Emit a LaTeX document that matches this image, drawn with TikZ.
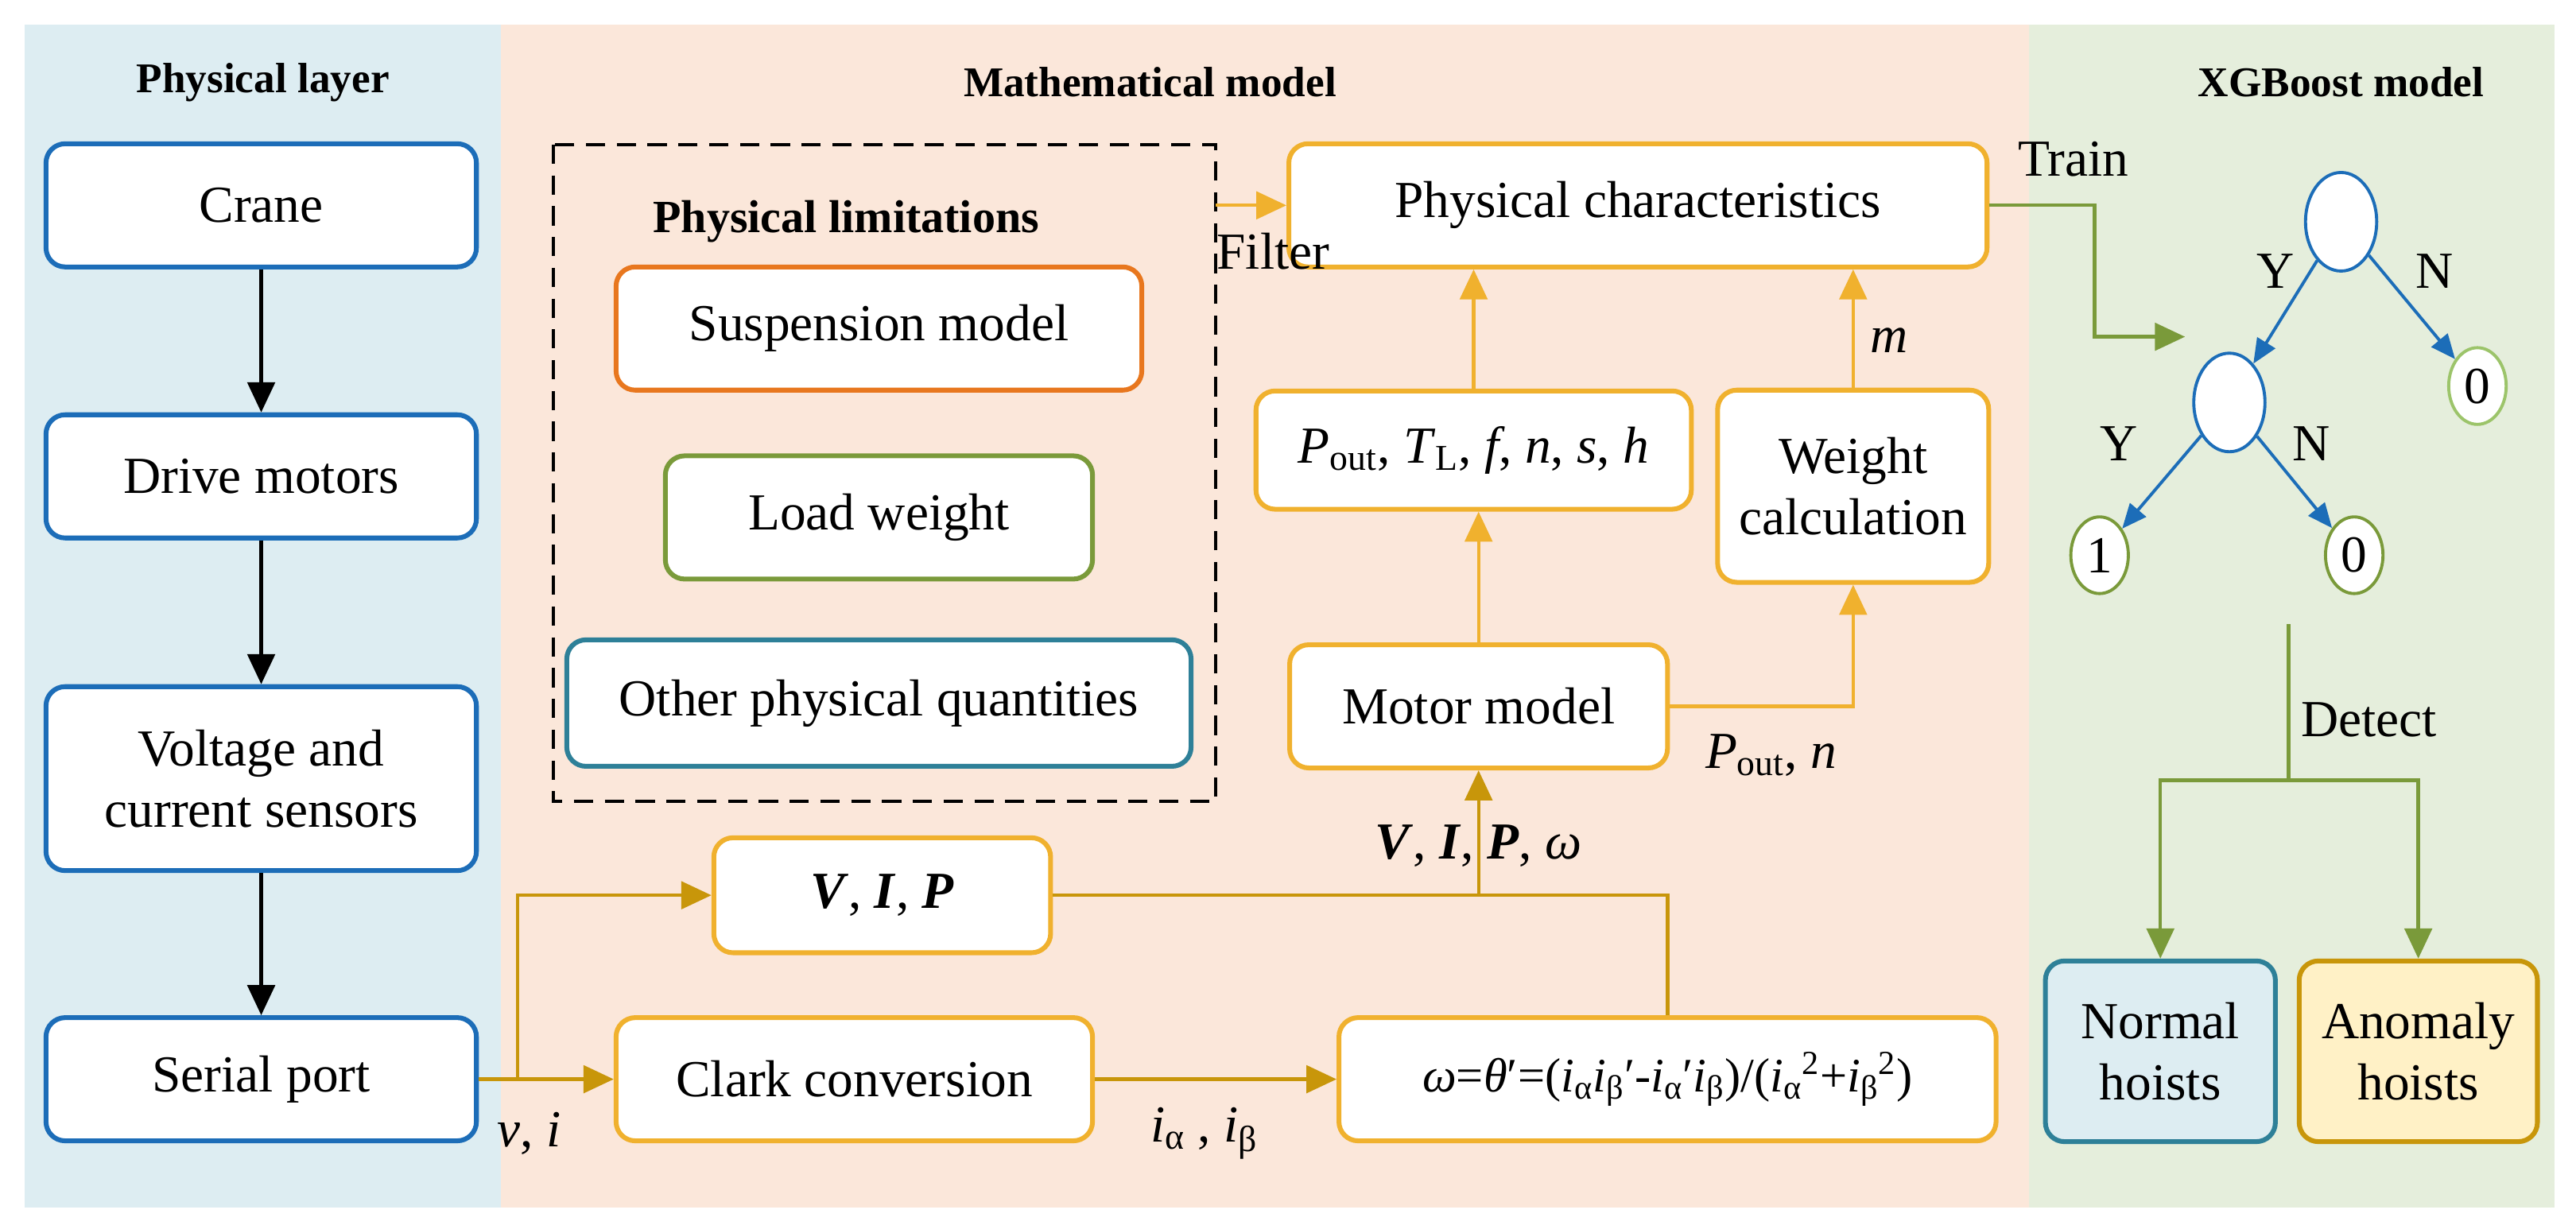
\documentclass[tikz,border=0pt]{standalone}
\usepackage{fontspec}
\setmainfont{Liberation Serif}
\usetikzlibrary{arrows.meta,shapes.geometric}
\definecolor{bgb}{HTML}{DDEDF2}
\definecolor{bgp}{HTML}{FBE7DA}
\definecolor{bgg}{HTML}{E5EEDC}
\definecolor{cb}{HTML}{1C6DB8}
\definecolor{cy}{HTML}{F0B12E}
\definecolor{cd}{HTML}{C8960A}
\definecolor{co}{HTML}{E8771E}
\definecolor{cg}{HTML}{7A9A3A}
\definecolor{ct}{HTML}{2E8098}
\definecolor{clg}{HTML}{9CC46A}
\definecolor{cream}{HTML}{FFF1C6}
\newcommand{\bi}[1]{\textbf{\textit{#1}}}
\newcommand{\iv}{\textit{i}}
\begin{document}
\begin{tikzpicture}[x=0.03cm,y=-0.03cm,
  every node/.style={font=\fontsize{27}{32}\selectfont},
  bx/.style={draw,line width=2.5pt,rounded corners=0.35cm,fill=white,align=center,inner sep=0pt},
  ttl/.style={font=\fontsize{22}{26}\selectfont\bfseries},
  ar/.style={line width=1.8pt,-{Triangle[length=0.55cm,width=0.5cm]}},
  ln/.style={line width=1.8pt},
  lf/.style={draw=cb,line width=1.6pt,ellipse,minimum width=1.3cm,minimum height=1.8cm,fill=white,inner sep=0pt}]
\useasboundingbox (0,0) rectangle (1568,748);
\fill[bgb] (15,15) rectangle (305,735);
\fill[bgp] (305,15) rectangle (1235,735);
\fill[bgg] (1235,15) rectangle (1555,735);
\node[ttl] (t1) at (160,50) {Physical layer};
\node[ttl] (t2) at (700,50) {Mathematical model};
\node[ttl] (t3) at (1425,50) {XGBoost model};
% left
\tikzset{lb/.style={bx,draw=cb,minimum width=262*0.03cm}}
\node[lb,minimum height=75*0.03cm] (crane) at (159,125) {Crane};
\node[lb,minimum height=75*0.03cm] (drive) at (159,290) {Drive motors};
\node[lb,minimum height=112*0.03cm] (sens) at (159,474) {Voltage and\\current sensors};
\node[lb,minimum height=75*0.03cm] (serial) at (159,657) {Serial port};
\draw[ar] (crane) -- (drive);
\draw[ar] (drive) -- (sens);
\draw[ar] (sens) -- (serial);
% dashed box
\draw[line width=1.6pt,dash pattern=on 10pt off 6pt] (337,88) rectangle (740,488);
\coordinate (dbr) at (740,125);
\node[ttl,font=\fontsize{24}{28}\selectfont\bfseries] (pl) at (515,135) {Physical limitations};
\node[bx,draw=co,minimum width=320*0.03cm,minimum height=75*0.03cm] (susp) at (535,200) {Suspension model};
\node[bx,draw=cg,minimum width=260*0.03cm,minimum height=75*0.03cm] (load) at (535,315) {Load weight};
\node[bx,draw=ct,minimum width=380*0.03cm,minimum height=77*0.03cm] (oth) at (535,428) {Other physical quantities};
% middle
\tikzset{yb/.style={bx,draw=cy}}
\node[yb,minimum width=425*0.03cm,minimum height=75*0.03cm] (pc) at (997,125) {Physical characteristics};
\node[yb,minimum width=265*0.03cm,minimum height=72*0.03cm] (pout) at (897,274) {\textit{P}\textsubscript{out}, \textit{T}\textsubscript{L}, \textit{f}, \textit{n}, \textit{s}, \textit{h}};
\node[yb,minimum width=165*0.03cm,minimum height=117*0.03cm] (wc) at (1128,296) {Weight\\calculation};
\node[yb,minimum width=230*0.03cm,minimum height=75*0.03cm] (mm) at (900,430) {Motor model};
\node[yb,minimum width=205*0.03cm,minimum height=70*0.03cm] (vip) at (537,545) {\bi{V}, \bi{I}, \bi{P}};
\node[yb,minimum width=290*0.03cm,minimum height=75*0.03cm] (clark) at (520,657) {Clark conversion};
\node[yb,minimum width=400*0.03cm,minimum height=75*0.03cm,font=\fontsize{25}{30}\selectfont] (om) at (1015,657) {\textit{ω}=\textit{θ}′=(\iv\textsubscript{α}\iv\textsubscript{β}′-\iv\textsubscript{α}′\iv\textsubscript{β})/(\iv\textsubscript{α}\textsuperscript{2}+\iv\textsubscript{β}\textsuperscript{2})};
\draw[ar,cy] (dbr) -- (pc.west|-dbr);
\node (filt) at (775,153) {Filter};
\draw[ar,cy] (pout.north) -- (pout.north|-pc.south);
\draw[ar,cy] (wc.north) -- (wc.north|-pc.south);
\node (m) at (1150,207) {\textit{m}};
\draw[ar,cy] (mm.north) -- (mm.north|-pout.south);
\draw[ar,cy] (mm.east) -- (wc.south|-mm.east) -- (wc.south);
\node (pn) at (1078,460) {\textit{P}\textsubscript{out}, \textit{n}};
\coordinate (sp) at (315,657);
\draw[ar,cd] (serial.east) -- (clark.west);
\draw[ar,cd] (sp) -- (315,545) -- (vip.west);
\node (vi) at (322,690) {\textit{v}, \textit{i}};
\draw[ar,cd] (clark.east) -- (om.west);
\node (ia) at (733,690) {\iv\textsubscript{α} , \iv\textsubscript{β}};
\draw[ln,cd] (vip.east) -- (1015,545) -- (om.north);
\draw[ar,cd] (900,545) -- (mm.south);
\node (vipw) at (900,515) {\bi{V}, \bi{I}, \bi{P}, \textit{ω}};
% XGBoost
\node[lf] (r) at (1425,135) {};
\node[lf] (c) at (1357,245) {};
\node[lf,draw=clg,minimum width=1.05cm,minimum height=1.4cm] (l0) at (1508,235) {0};
\node[lf,draw=cg,minimum width=1.05cm,minimum height=1.4cm] (l1) at (1278,338) {1};
\node[lf,draw=cg,minimum width=1.05cm,minimum height=1.4cm] (l2) at (1433,338) {0};
\tikzset{ba/.style={line width=1.6pt,cb,-{Triangle[length=0.45cm,width=0.38cm]}}}
\draw[ba] (r) -- (c);
\draw[ba] (r) -- (l0);
\draw[ba] (c) -- (l1);
\draw[ba] (c) -- (l2);
\node (y1) at (1385,165) {Y};
\node (n1) at (1482,165) {N};
\node (y2) at (1290,270) {Y};
\node (n2) at (1407,270) {N};
\draw[ar,cg] (pc.east) -- (1275,125) -- (1275,205) -- (1330,205);
\node (tr) at (1262,97) {Train};
\node[bx,draw=ct,fill=bgb,minimum width=140*0.03cm,minimum height=110*0.03cm] (nh) at (1315,640) {Normal\\hoists};
\node[bx,draw=cd,fill=cream,minimum width=145*0.03cm,minimum height=110*0.03cm] (ah) at (1472,640) {Anomaly\\hoists};
\draw[ln,cg] (1393,380) -- (1393,475);
\draw[ar,cg] (1393,475) -- (nh.north|-1393,475) -- (nh.north);
\draw[ar,cg] (1393,475) -- (ah.north|-1393,475) -- (ah.north);
\node (det) at (1442,438) {Detect};
\end{tikzpicture}
\end{document}
